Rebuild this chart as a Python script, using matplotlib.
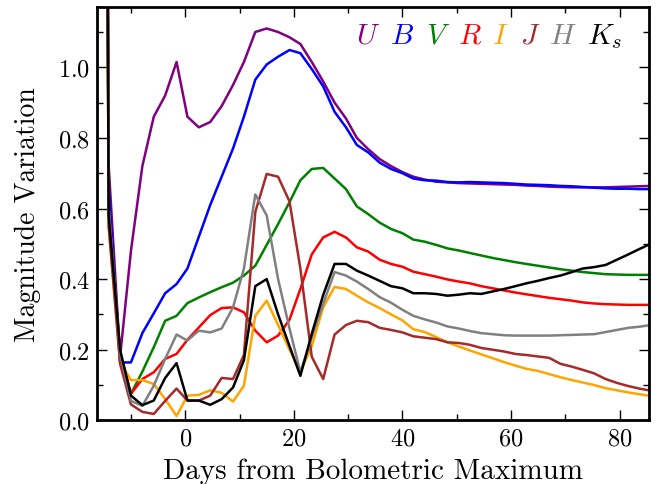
#!/usr/bin/env python3
"""
Magnitude variation vs days from bolometric maximum, UBVRIJHKs bands.
"""

import matplotlib
matplotlib.use('Agg')
import matplotlib.pyplot as plt
from matplotlib.ticker import MultipleLocator

plt.rcParams['font.family'] = 'serif'
plt.rcParams['font.serif'] = ['cmr10', 'DejaVu Serif']
plt.rcParams['mathtext.fontset'] = 'cm'
plt.rcParams['axes.formatter.use_mathtext'] = True

# epochs (days from bolometric maximum)
days = [-16.2, -14.1, -12.0, -10.0, -7.9, -5.8, -3.7, -1.6, 0.4, 2.5,
        4.6, 6.7, 8.8, 10.8, 12.9, 15.0, 17.1, 19.2, 21.2, 23.3,
        25.4, 27.5, 29.6, 31.6, 33.7, 35.8, 37.9, 40.0, 42.0, 44.1,
        46.2, 48.3, 50.4, 52.4, 54.5, 56.6, 58.7, 60.8, 62.8, 64.9,
        67.0, 69.1, 71.2, 73.2, 75.3, 77.4, 79.5, 81.6, 83.6, 85.7]

U = [8.0, 0.72, 0.18, 0.48, 0.72, 0.86, 0.92, 1.015, 0.86, 0.83,
     0.845, 0.89, 0.95, 1.015, 1.10, 1.11, 1.10, 1.085, 1.066, 1.015,
     0.96, 0.90, 0.855, 0.80, 0.768, 0.74, 0.72, 0.703, 0.69, 0.682,
     0.676, 0.674, 0.672, 0.671, 0.67, 0.669, 0.668, 0.667, 0.665, 0.664,
     0.662, 0.661, 0.66, 0.66, 0.66, 0.66, 0.661, 0.662, 0.663, 0.664]
B = [8.0, 0.66, 0.164, 0.164, 0.247, 0.303, 0.36, 0.386, 0.43, 0.52,
     0.61, 0.69, 0.77, 0.86, 0.965, 1.008, 1.03, 1.049, 1.04, 0.995,
     0.946, 0.874, 0.83, 0.78, 0.759, 0.73, 0.712, 0.70, 0.685, 0.68,
     0.679, 0.675, 0.674, 0.675, 0.674, 0.673, 0.672, 0.67, 0.668, 0.667,
     0.666, 0.664, 0.663, 0.661, 0.659, 0.657, 0.656, 0.656, 0.655, 0.655]
V = [8.0, 0.60, 0.19, 0.075, 0.138, 0.207, 0.282, 0.296, 0.332, 0.348,
     0.363, 0.377, 0.39, 0.41, 0.438, 0.497, 0.556, 0.618, 0.68, 0.712,
     0.715, 0.685, 0.655, 0.606, 0.584, 0.56, 0.542, 0.53, 0.512, 0.506,
     0.497, 0.487, 0.481, 0.474, 0.467, 0.46, 0.454, 0.448, 0.443, 0.438,
     0.433, 0.428, 0.424, 0.42, 0.417, 0.414, 0.413, 0.412, 0.412, 0.412]
R = [8.0, 0.60, 0.19, 0.075, 0.117, 0.136, 0.174, 0.188, 0.228, 0.263,
     0.298, 0.318, 0.32, 0.306, 0.254, 0.221, 0.24, 0.285, 0.372, 0.47,
     0.518, 0.534, 0.518, 0.49, 0.478, 0.455, 0.443, 0.435, 0.421, 0.414,
     0.407, 0.399, 0.393, 0.388, 0.38, 0.374, 0.368, 0.362, 0.357, 0.352,
     0.347, 0.343, 0.339, 0.334, 0.331, 0.329, 0.328, 0.327, 0.327, 0.327]
I = [8.0, 0.55, 0.165, 0.114, 0.114, 0.103, 0.06, 0.012, 0.07, 0.072,
     0.085, 0.078, 0.053, 0.098, 0.296, 0.339, 0.27, 0.20, 0.137, 0.21,
     0.32, 0.378, 0.372, 0.353, 0.334, 0.318, 0.30, 0.283, 0.258, 0.25,
     0.236, 0.221, 0.209, 0.198, 0.187, 0.176, 0.165, 0.155, 0.146, 0.14,
     0.131, 0.122, 0.114, 0.107, 0.10, 0.091, 0.085, 0.079, 0.074, 0.069]
J = [8.0, 0.55, 0.16, 0.045, 0.024, 0.018, 0.055, 0.09, 0.056, 0.056,
     0.07, 0.12, 0.117, 0.185, 0.59, 0.698, 0.69, 0.62, 0.43, 0.18,
     0.117, 0.243, 0.27, 0.282, 0.278, 0.262, 0.256, 0.249, 0.238, 0.234,
     0.23, 0.221, 0.219, 0.214, 0.205, 0.20, 0.195, 0.188, 0.185, 0.181,
     0.177, 0.16, 0.152, 0.143, 0.133, 0.117, 0.106, 0.097, 0.09, 0.084]
H = [8.0, 0.60, 0.19, 0.055, 0.041, 0.098, 0.174, 0.243, 0.226, 0.254,
     0.249, 0.26, 0.32, 0.43, 0.64, 0.58, 0.40, 0.26, 0.136, 0.235,
     0.33, 0.42, 0.41, 0.393, 0.372, 0.349, 0.333, 0.313, 0.296, 0.286,
     0.277, 0.266, 0.26, 0.253, 0.247, 0.244, 0.241, 0.24, 0.24, 0.24,
     0.24, 0.241, 0.242, 0.243, 0.244, 0.25, 0.256, 0.262, 0.265, 0.27]
Ks = [8.0, 0.58, 0.20, 0.07, 0.043, 0.056, 0.12, 0.162, 0.056, 0.056,
      0.044, 0.06, 0.093, 0.17, 0.38, 0.40, 0.30, 0.21, 0.126, 0.245,
      0.355, 0.443, 0.443, 0.424, 0.41, 0.395, 0.38, 0.374, 0.36, 0.36,
      0.358, 0.353, 0.356, 0.36, 0.358, 0.365, 0.372, 0.38, 0.388, 0.395,
      0.403, 0.41, 0.42, 0.43, 0.434, 0.44, 0.455, 0.47, 0.485, 0.50]

bands = ['$U$', '$B$', '$V$', '$R$', '$I$', '$J$', '$H$', '$K_s$']
colors = ['purple', 'blue', 'green', 'red', 'orange', 'brown', 'gray', 'black']
series = [U, B, V, R, I, J, H, Ks]
# label x positions (axes fraction)
label_x = [0.491, 0.552, 0.618, 0.676, 0.730, 0.784, 0.844, 0.920]

fig = plt.figure(figsize=(6.6, 4.85), dpi=100)
ax = fig.add_axes([0.1474, 0.1313, 0.8359, 0.8516])

for vals, c in zip(series, colors):
    ax.plot(days, vals, color=c, lw=1.8)

for name, c, fx in zip(bands, colors, label_x):
    ax.text(fx, 0.932, name, color=c, fontsize=21, ha='center', va='center',
            transform=ax.transAxes)

ax.set_xlim(-16.2, 85.4)
ax.set_ylim(0, 1.17)
ax.xaxis.set_major_locator(MultipleLocator(20))
ax.xaxis.set_minor_locator(MultipleLocator(10))
ax.yaxis.set_major_locator(MultipleLocator(0.2))
ax.yaxis.set_minor_locator(MultipleLocator(0.1))
ax.tick_params(which='both', direction='in', top=True, right=True, labelsize=17.5, width=1.0)
ax.tick_params(which='major', length=7, pad=5)
ax.tick_params(which='minor', length=4)
for sp in ax.spines.values():
    sp.set_linewidth(2.0)

ax.set_xlabel('Days from Bolometric Maximum', fontsize=21, labelpad=6)
ax.set_ylabel('Magnitude Variation', fontsize=20, labelpad=12)

fig.savefig('out.png', dpi=100)
